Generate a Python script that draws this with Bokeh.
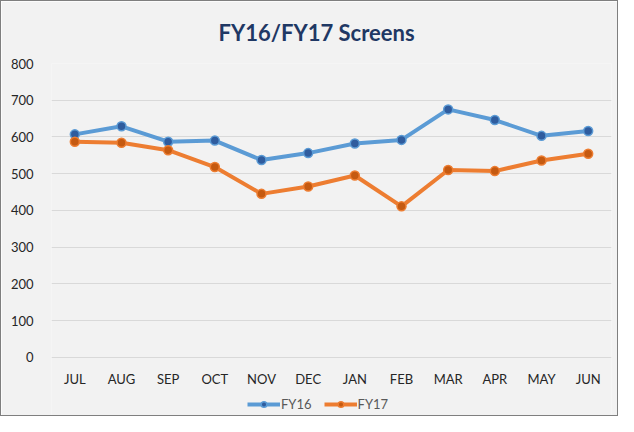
from bokeh.plotting import figure
from bokeh.models import Range1d, FactorRange, Legend, LegendItem, Title
from bokeh.embed import file_html
from bokeh.resources import INLINE

months = ["JUL", "AUG", "SEP", "OCT", "NOV", "DEC", "JAN", "FEB", "MAR", "APR", "MAY", "JUN"]
fy16 = [607, 629, 587, 590, 537, 556, 582, 592, 675, 646, 603, 616]
fy17 = [587, 584, 564, 518, 445, 465, 495, 411, 510, 507, 536, 554]
y_ticks = [0, 100, 200, 300, 400, 500, 600, 700, 800]

FONT = "Lato"
BG = "#F2F2F2"

p = figure(x_range=FactorRange(*months), y_range=Range1d(-164, 800),
           width=618, height=416, output_backend="svg", toolbar_location=None,
           background_fill_color=BG, border_fill_color=BG,
           min_border_left=50, min_border_right=8, min_border_top=62, min_border_bottom=0)
p.styles = {"border": "1px solid #7F7F7F", "box-sizing": "border-box"}
p.outline_line_color = None

t = Title(text="FY16/FY17 Screens", align="left", text_font=FONT, text_font_size="22px",
          text_font_style="bold", text_color="#1F3864", offset=167, standoff=32,
          vertical_align="top")
p.add_layout(t, "above")

p.xgrid.grid_line_color = None
p.ygrid.grid_line_color = "#D9D9D9"
p.ygrid.grid_line_width = 1
p.yaxis.ticker = y_ticks
p.xaxis.fixed_location = 0

for ax in (p.xaxis, p.yaxis):
    ax.axis_line_color = None
    ax.major_tick_line_color = None
    ax.minor_tick_line_color = None
    ax.major_label_text_font = FONT
    ax.major_label_text_font_size = "13px"
    ax.major_label_text_color = "#262626"
p.yaxis.major_label_standoff = 12
p.xaxis.major_label_standoff = 8

l16 = p.line(months, fy16, line_color="#5B9BD5", line_width=4, line_join="round")
s16 = p.scatter(months, fy16, size=9, fill_color="#2F5C9E", line_color="#5B9BD5", line_width=1.5)
l17 = p.line(months, fy17, line_color="#ED7D31", line_width=4, line_join="round")
s17 = p.scatter(months, fy17, size=9, fill_color="#C55A11", line_color="#ED7D31", line_width=1.5)

legend = Legend(items=[LegendItem(label="FY16", renderers=[l16, s16]),
                       LegendItem(label="FY17", renderers=[l17, s17])],
                orientation="horizontal", location=(196, 5),
                background_fill_alpha=0, border_line_color=None,
                label_text_font=FONT, label_text_font_size="13px", label_text_color="#595959",
                glyph_width=33, glyph_height=14, label_standoff=1, spacing=12,
                padding=2, margin=0)
p.add_layout(legend, "center")

open("out.html", "w").write(file_html(p, INLINE))
